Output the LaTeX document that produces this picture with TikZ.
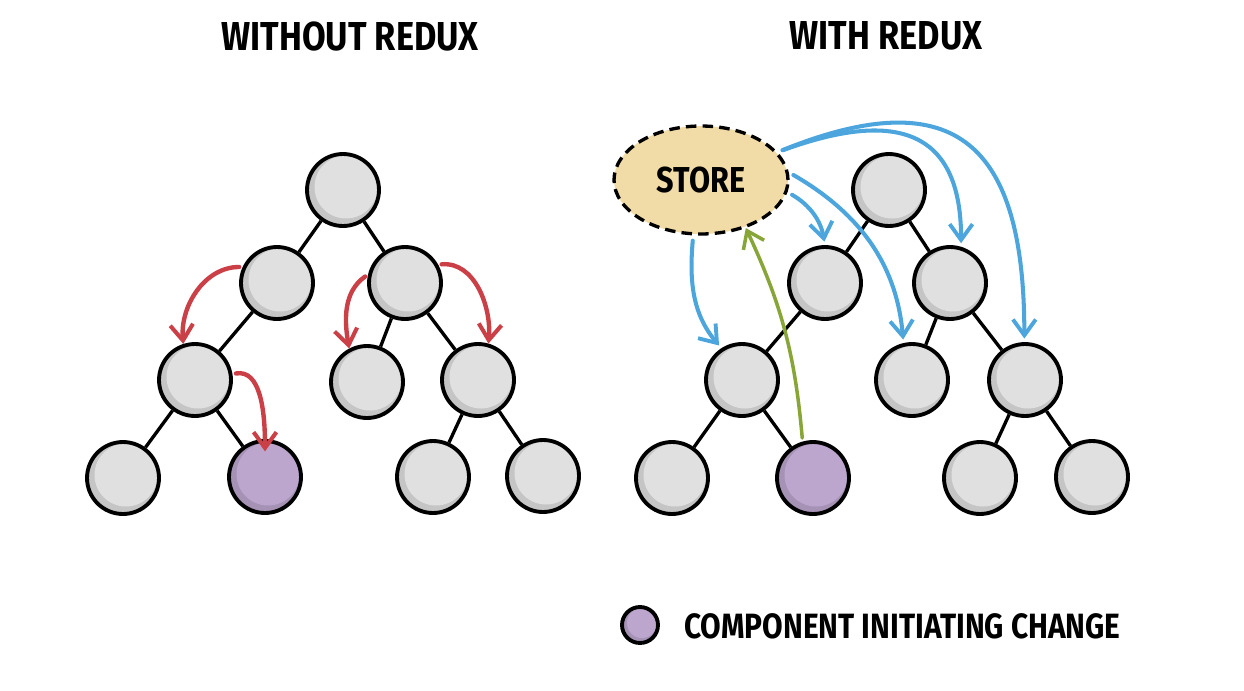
\documentclass[tikz,border=0pt]{standalone}
\usepackage{fontspec}
\newfontfamily\handfont{Fira Sans}[FakeStretch=0.85]
\usetikzlibrary{positioning,arrows.meta,calc,shapes.geometric}
\definecolor{nodegray}{RGB}{224,224,224}
\definecolor{initpurple}{RGB}{188,166,206}
\definecolor{storetan}{RGB}{241,219,166}
\definecolor{redline}{RGB}{203,64,70}
\definecolor{blueline}{RGB}{76,166,221}
\definecolor{greenline}{RGB}{136,166,56}

\begin{document}
\begin{tikzpicture}[x=0.02cm,y=-0.02cm,
  comp/.style={circle,draw,line width=2.2pt,minimum size=1.44cm,inner sep=0pt,fill=#1!88!black,
    path picture={\fill[#1] ($(path picture bounding box.center)+(3,-3)$) circle[radius=0.63cm];}},
  comp/.default=nodegray,
  branch/.style={line width=1.9pt},
  title/.style={font=\handfont\bfseries\fontsize{23}{26}\selectfont,inner sep=0pt},
  redarrow/.style={draw=redline,line width=2.5pt,line cap=round,shorten <=2pt,
    -{Straight Barb[length=9pt,width=13pt,line width=2.3pt]}},
  bluearrow/.style={draw=blueline,line width=2.3pt,line cap=round,shorten <=3pt,shorten >=2pt,
    -{Straight Barb[length=9pt,width=13pt,line width=2.2pt]}},
  greenarrow/.style={draw=greenline,line width=2pt,line cap=round,shorten <=2pt,
    -{Straight Barb[length=9pt,width=13pt,line width=2pt]}}]
  \path[fill=white] (0,0) rectangle (1244,690);
  \useasboundingbox (0,0) rectangle (1244,690);

  \node[title] (wo) at (350,36) {WITHOUT REDUX};
  \node[title] (wi) at (886,36) {WITH REDUX};

  % tree without redux
  \foreach \n/\x/\y in {lr/343/190, la/277/283, lb/405/283, laa/195/380, lba/367/382,
      lbb/478/380, laaa/123/478, lbba/433/477, lbbb/543/476}
    \node[comp] (\n) at (\x,\y) {};
  \node[comp=initpurple] (laab) at (265,477) {};
  \foreach \a/\b in {lr/la, lr/lb, la/laa, laa/laaa, laa/laab, lb/lba, lb/lbb, lbb/lbba, lbb/lbbb}
    \draw[branch] (\a) -- (\b);

  \draw[redarrow] (la.155) to[out=180,in=95] (laa.108);
  \draw[redarrow] (lb.167) to[out=215,in=100] (lba.118);
  \draw[redarrow] (lb.29) to[out=5,in=85] (lbb.74);
  \draw[redarrow,shorten >=-7pt] (laa.9) to[out=10,in=90] (laab.north);

  % tree with redux
  \foreach \n/\x/\y in {rr/889/190, ra/825/283, rb/950/283, raa/742/380, rba/912/380,
      rbb/1025/380, raaa/672/478, rbba/980/478, rbbb/1092/477}
    \node[comp] (\n) at (\x,\y) {};
  \node[comp=initpurple] (raab) at (813,478) {};
  \foreach \a/\b in {rr/ra, rr/rb, ra/raa, raa/raaa, raa/raab, rb/rba, rb/rbb, rbb/rbba, rbb/rbbb}
    \draw[branch] (\a) -- (\b);

  \node[ellipse,draw,dash pattern=on 6pt off 3.5pt,line width=1.9pt,fill=storetan,
    minimum width=3.48cm,minimum height=2.16cm,inner sep=0pt,
    font=\handfont\bfseries\fontsize{20.5}{24}\selectfont] (st) at (701,180) {STORE};

  \draw[bluearrow] (st.262) to[out=265,in=130] (raa.123);
  \draw[bluearrow] (st.-8) to[out=-30,in=100] (ra.90);
  \draw[bluearrow] (st.5) to[out=-30,in=95] (rba.103);
  \draw[bluearrow] (st.20) to[out=20,in=90,looseness=1.5] (rb.73);
  \draw[bluearrow] (st.20) to[out=22,in=90,looseness=1.6] (rbb.91);
  \draw[greenarrow] (raab.106) to[out=95,in=-65] (st.-47);

  % legend
  \node[comp=initpurple,minimum size=0.72cm,
    path picture={\fill[initpurple] ($(path picture bounding box.center)+(2,-2)$) circle[radius=0.3cm];}]
    (key) at (640,625) {};
  \node[title,font=\handfont\bfseries\fontsize{20}{23}\selectfont,anchor=west]
    (keytext) at (684,626) {COMPONENT INITIATING CHANGE};
\end{tikzpicture}
\end{document}
